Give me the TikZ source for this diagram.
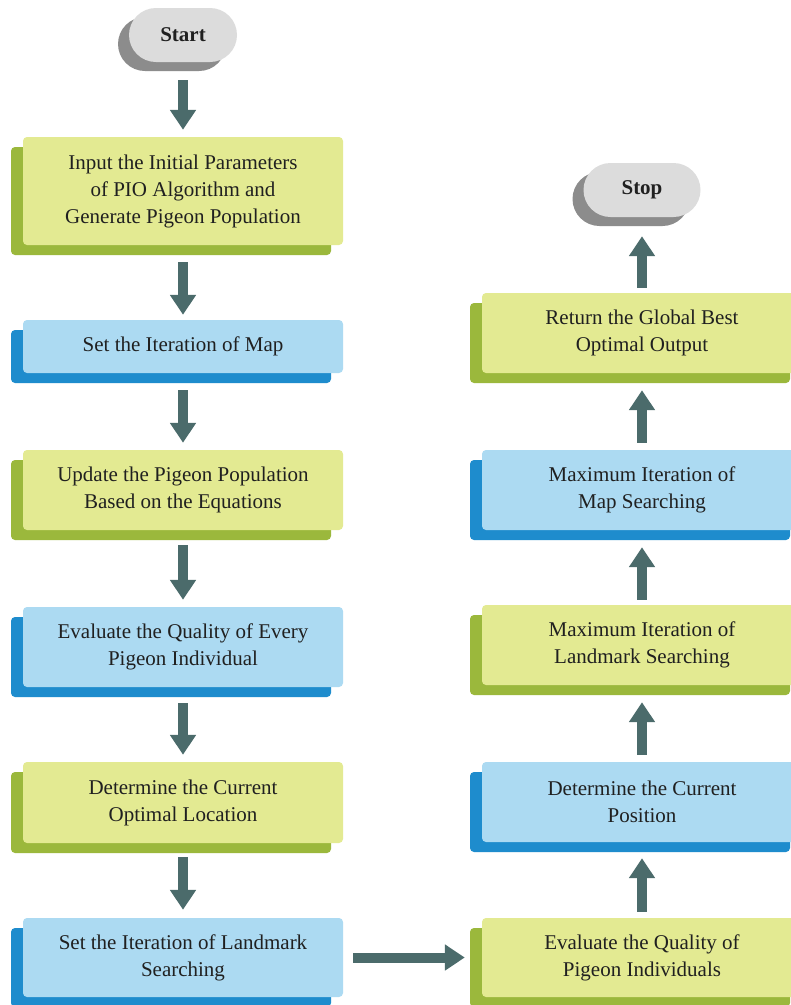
\documentclass[tikz,border=0pt]{standalone}
\usepackage{fontspec}
\setmainfont{Liberation Serif}
\usetikzlibrary{arrows.meta,shadows,shapes.misc}
\definecolor{gfront}{HTML}{E3EA92}
\definecolor{gshadow}{HTML}{9BB83C}
\definecolor{bfront}{HTML}{ACDAF2}
\definecolor{bshadow}{HTML}{1E8CCD}
\definecolor{capfront}{HTML}{DCDCDC}
\definecolor{capshadow}{HTML}{8C8C8C}
\definecolor{arrowc}{HTML}{4B6B6B}
\definecolor{txt}{HTML}{202020}
\tikzset{
  box/.style={rectangle, rounded corners=4pt, minimum width=320pt, inner sep=0pt,
    align=center, text=txt, font=\fontsize{21}{27}\selectfont},
  greenbox/.style={box, fill=gfront,
    drop shadow={shadow xshift=-12pt, shadow yshift=-10pt, fill=gshadow, opacity=1}},
  bluebox/.style={box, fill=bfront,
    drop shadow={shadow xshift=-12pt, shadow yshift=-10pt, fill=bshadow, opacity=1}},
  capsule/.style={rounded rectangle, fill=capfront, inner sep=0pt, minimum height=54pt,
    text=txt, font=\fontsize{21}{27}\selectfont\bfseries,
    drop shadow={shadow xshift=-11pt, shadow yshift=-9pt, fill=capshadow, opacity=1}},
  flow/.style={draw=arrowc, line width=10pt, -{Triangle[width=25pt,length=20pt]}}
}
\begin{document}
\begin{tikzpicture}[x=1pt,y=-1pt]
\useasboundingbox (0,0) rectangle (791,1005);
\clip (0,0) rectangle (791,1005);
\fill[white] (0,0) rectangle (791,1005);
% left column
\node[capsule, minimum width=108pt] (start) at (183,35) {Start};
\node[greenbox, minimum height=108pt] (b1) at (183,191) {Input the Initial Parameters\\of PIO Algorithm and\\Generate Pigeon Population};
\node[bluebox, minimum height=53pt] (b2) at (183,346.5) {Set the Iteration of Map};
\node[greenbox, minimum height=80pt] (b3) at (183,490) {Update the Pigeon Population\\Based on the Equations};
\node[bluebox, minimum height=80pt] (b4) at (183,647) {Evaluate the Quality of Every\\Pigeon Individual};
\node[greenbox, minimum height=81pt] (b5) at (183,802.5) {Determine the Current\\Optimal Location};
\node[bluebox, minimum height=79pt] (b6) at (183,957.5) {Set the Iteration of Landmark\\Searching};
% right column
\node[capsule, minimum width=117pt] (stop) at (642,190) {Stop};
\node[greenbox, minimum height=80pt] (r1) at (642,333) {Return the Global Best\\Optimal Output};
\node[bluebox, minimum height=80pt] (r2) at (642,490) {Maximum Iteration of\\Map Searching};
\node[greenbox, minimum height=80pt] (r3) at (642,645) {Maximum Iteration of\\Landmark Searching};
\node[bluebox, minimum height=80pt] (r4) at (642,802) {Determine the Current\\Position};
\node[greenbox, minimum height=79pt] (r5) at (642,957.5) {Evaluate the Quality of\\Pigeon Individuals};
% connectors
\draw[flow, shorten <=18pt, shorten >=7pt] (start.south) -- (b1.north);
\draw[flow, shorten <=17pt, shorten >=5pt] (b1.south) -- (b2.north);
\draw[flow, shorten <=17pt, shorten >=7pt] (b2.south) -- (b3.north);
\draw[flow, shorten <=15pt, shorten >=7pt] (b3.south) -- (b4.north);
\draw[flow, shorten <=16pt, shorten >=7pt] (b4.south) -- (b5.north);
\draw[flow, shorten <=14pt, shorten >=8pt] (b5.south) -- (b6.north);
\draw[flow, shorten <=10pt, shorten >=17pt] (b6.east) -- (r5.west);
\draw[flow, shorten <=6pt, shorten >=16pt] (r5.north) -- (r4.south);
\draw[flow, shorten <=7pt, shorten >=17pt] (r4.south |- r4.north) -- (r3.south);
\draw[flow, shorten <=5pt, shorten >=17pt] (r3.north) -- (r2.south);
\draw[flow, shorten <=7pt, shorten >=17pt] (r2.north) -- (r1.south);
\draw[flow, shorten <=5pt, shorten >=19pt] (r1.north) -- (stop.south);
\end{tikzpicture}
\end{document}
